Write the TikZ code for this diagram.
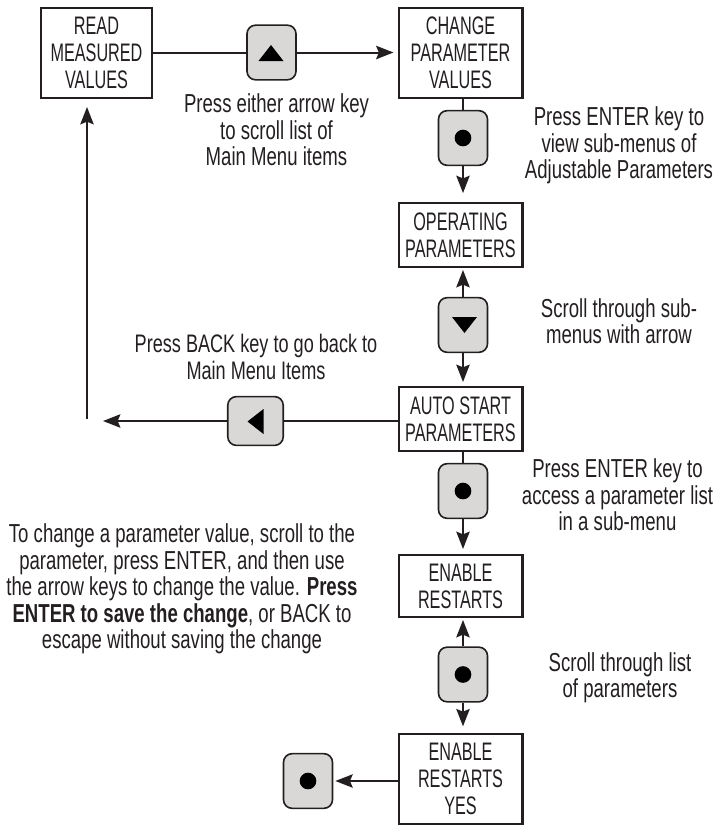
\documentclass[tikz,border=0pt]{standalone}
\usepackage{fontspec}
\setmainfont[FakeStretch=0.715]{Liberation Sans}
\newfontfamily\boxfont[FakeStretch=0.64]{Liberation Sans}
\usetikzlibrary{arrows.meta}
\definecolor{ink}{HTML}{231F20}
\definecolor{keygrey}{HTML}{D9D8D6}
\tikzset{
  x=0.75pt,y=-0.75pt,
  menubox/.style={draw=ink,line width=1.7pt,fill=white,inner sep=0pt,align=center,text=ink,minimum width=92.8pt,font=\boxfont\fontsize{19}{20.25}\selectfont},
  keybox/.style={draw=ink,line width=1.2pt,fill=keygrey,rounded corners=6.5pt,minimum width=36.8pt,minimum height=41pt,inner sep=0pt},
  link/.style={draw=ink,line width=1.5pt},
  arrowlink/.style={link,-{Stealth[length=13pt,width=10pt,inset=2pt]}},
  note/.style={align=center,text=ink,font=\fontsize{19.5}{19.8}\selectfont},
  markdot/.style={fill=black,draw=none,circle,minimum size=12.5pt,inner sep=0pt},
}
\begin{document}
\begin{tikzpicture}
\useasboundingbox (0,0) rectangle (722,826);
% boxes
\node[menubox,minimum width=83pt,minimum height=67.3pt] (read) at (96.5,53) {READ\\MEASURED\\VALUES};
\node[menubox,minimum height=67.3pt] (change) at (460.5,53) {CHANGE\\PARAMETER\\VALUES};
\node[menubox,minimum height=47.8pt] (oper) at (460.5,235) {OPERATING\\PARAMETERS};
\node[menubox,minimum height=47.8pt] (auto) at (460.5,419) {AUTO START\\PARAMETERS};
\node[menubox,minimum height=46.3pt] (enable) at (460.5,586) {ENABLE\\RESTARTS};
\node[menubox,minimum height=67.3pt] (yes) at (460.5,779) {ENABLE\\RESTARTS\\YES};
% keys
\node[keybox] (kup) at (271.5,52.5) {};
\node[keybox] (kenter) at (463,138) {};
\node[keybox] (kdown) at (463,325) {};
\node[keybox,minimum width=41.6pt,minimum height=36.6pt] (kback) at (255.5,421) {};
\node[keybox] (kentertwo) at (463,491) {};
\node[keybox] (kenterthree) at (463,674.5) {};
\node[keybox] (kenterfour) at (308,781) {};
% key glyphs
\fill[black] (258.5,61) -- (283.5,61) -- (271,45) -- cycle;
\fill[black] (452,317) -- (477,317) -- (464.5,333) -- cycle;
\fill[black] (263.5,409) -- (263.5,434) -- (247.5,421.5) -- cycle;
\node[markdot] (dotone) at (kenter.center) {};
\node[markdot] (dottwo) at (kentertwo.center) {};
\node[markdot] (dotthree) at (kenterthree.center) {};
\node[markdot] (dotfour) at (kenterfour.center) {};
% connectors
\coordinate (backend) at (103,421);
\coordinate (loopstart) at (87,419);
\coordinate (looptop) at (87,107);
\draw[link] (kup.west -| read.east) -- (kup.west);
\draw[arrowlink,shorten >=3pt] (kup.east) -- (kup.east -| change.west);
\draw[link] (kenter.north |- change.south) -- (kenter.north);
\draw[arrowlink,shorten >=6.7pt] (kenter.south) -- (kenter.south |- oper.north);
\draw[arrowlink,shorten >=1.5pt] (kdown.north) -- (kdown.north |- oper.south);
\draw[arrowlink,shorten >=3pt] (kdown.south) -- (kdown.south |- auto.north);
\draw[link] (kback.east -| auto.west) -- (kback.east);
\draw[arrowlink] (kback.west) -- (backend);
\draw[arrowlink] (loopstart) -- (looptop);
\draw[link] (kentertwo.north |- auto.south) -- (kentertwo.north);
\draw[arrowlink,shorten >=3.75pt] (kentertwo.south) -- (kentertwo.south |- enable.north);
\draw[arrowlink,shorten >=1.5pt] (kenterthree.north) -- (kenterthree.north |- enable.south);
\draw[arrowlink,shorten >=5pt] (kenterthree.south) -- (kenterthree.south |- yes.north);
\draw[arrowlink,shorten >=1.5pt] (kenterfour.east -| yes.west) -- (kenterfour.east);
% notes
\node[note] (nscroll) at (276.5,130) {Press either arrow key\\to scroll list of\\Main Menu items};
\node[note] (nview) at (619,145.5) {Press ENTER key to\\view sub-menus of\\Adjustable Parameters};
\node[note] (nsub) at (619,321) {Scroll through sub-\\menus with arrow};
\node[note,font=\fontsize{19}{19.8}\selectfont] (nback) at (256,357) {Press BACK key to go back to\\Main Menu Items};
\node[note] (naccess) at (617.5,495) {Press ENTER key to\\access a parameter list\\in a sub-menu};
\node[note] (nchange) at (182,589) {To change a parameter value, scroll to the\\parameter, press ENTER, and then use\\the arrow keys to change the value. \textbf{Press}\\\textbf{ENTER to save the change}, or BACK to\\escape without saving the change};
\node[note] (nlist) at (620,677.5) {Scroll through list\\of parameters};
\end{tikzpicture}
\end{document}
